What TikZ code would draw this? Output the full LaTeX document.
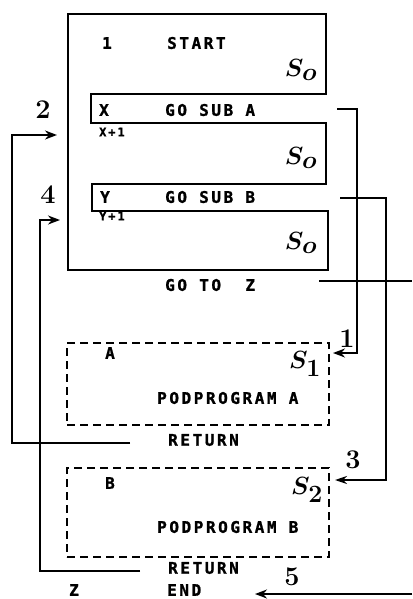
\documentclass[tikz,border=0pt]{standalone}
\usepackage{fontspec}
\usetikzlibrary{arrows.meta}
\newfontfamily\tw[LetterSpace=16,FakeBold=1.2]{DejaVu Sans Mono}
\tikzset{
  frame/.style={line width=2.2pt, line join=miter},
  conn/.style={line width=1.8pt},
  arr/.style={conn, -{Stealth[length=12pt,width=9pt]}},
  oarr/.style={conn, -{Stealth[open,length=12pt,width=8pt]}},
  dbox/.style={draw, line width=2pt, dash pattern=on 8pt off 5pt, inner sep=0pt},
  txt/.style={font=\tw\bfseries\fontsize{16}{16}\selectfont, inner sep=0pt, anchor=west},
  small/.style={font=\tw\bfseries\fontsize{12}{12}\selectfont, inner sep=0pt, anchor=west},
  sname/.style={font=\boldmath\fontsize{36}{36}\selectfont, inner sep=0pt},
  num/.style={font=\bfseries\fontsize{27}{27}\selectfont, inner sep=0pt},
}
\begin{document}
\begin{tikzpicture}[x=1pt,y=-1pt]
\useasboundingbox (0,0) rectangle (412,599);
% main program frame
\draw[frame] (91,94) -- (326,94) -- (326,14) -- (68,14) -- (68,270) -- (328,270)
  -- (328,211) -- (92,211) -- (92,184) -- (326,184) -- (326,123) -- (91,123) -- cycle;
\node[txt, anchor=center] (one) at (107,43) {1};
\node[txt] (start) at (167,43) {START};
\node[sname] (s0a) at (301,70) {$S_o$};
\node[txt, anchor=center] (x) at (104,110) {X};
\node[txt] (gosubA) at (165,110) {GO SUB A};
\node[small] (xp1) at (99,132) {X+1};
\node[sname] (s0b) at (301,158) {$S_o$};
\node[txt, anchor=center] (y) at (105,197) {Y};
\node[txt] (gosubB) at (165,197) {GO SUB B};
\node[small] (yp1) at (99,216) {Y+1};
\node[sname] (s0c) at (301,243) {$S_o$};
\node[txt] (goto) at (165,285) {GO TO\ \ Z};
% subprogram A
\node[dbox, minimum width=262pt, minimum height=82pt] (boxA) at (198,384) {};
\node[txt, anchor=center] (la) at (110,353) {A};
\node[sname] (s1) at (305,364) {$S_1$};
\node[txt] (podA) at (157,398) {PODPROGRAM A};
\node[txt] (retA) at (168,440) {RETURN};
% subprogram B
\node[dbox, minimum width=262pt, minimum height=89pt] (boxB) at (198,512.5) {};
\node[txt, anchor=center] (lb) at (110,483) {B};
\node[sname] (s2) at (307,490) {$S_2$};
\node[txt] (podB) at (157,527) {PODPROGRAM B};
\node[txt] (retB) at (168,568) {RETURN};
\node[txt, anchor=center] (z) at (74,590) {Z};
\node[txt] (endn) at (167,590) {END};
% coordinates
\coordinate (r2) at (130,443);
\coordinate (c2) at (12,135);
\coordinate (t2) at (57,135);
\coordinate (r4) at (140,571);
\coordinate (c4) at (40,220);
\coordinate (t4) at (60,220);
\coordinate (s1a) at (337,109);
\coordinate (c1) at (357,353);
\coordinate (t1) at (333,353);
\coordinate (s3) at (340,198);
\coordinate (c3) at (386,480);
\coordinate (t3) at (335,480);
\coordinate (gz) at (319,281);
\coordinate (gze) at (412,281);
\coordinate (e5) at (412,594);
\coordinate (t5) at (255,594);
% connectors
\draw[arr] (r2) -| (c2) -- (t2);
\draw[arr] (r4) -| (c4) -- (t4);
\draw[arr] (s1a) -| (c1) -- (t1);
\draw[oarr] (s3) -| (c3) -- (t3);
\draw[conn] (gz) -- (gze);
\draw[arr] (e5) -- (t5);
% labels
\node[num] (l2) at (43,110) {2};
\node[num] (l4) at (48,195) {4};
\node[num] (l1) at (347,339) {1};
\node[num] (l3) at (353,460) {3};
\node[num] (l5) at (292,577) {5};
\end{tikzpicture}
\end{document}
